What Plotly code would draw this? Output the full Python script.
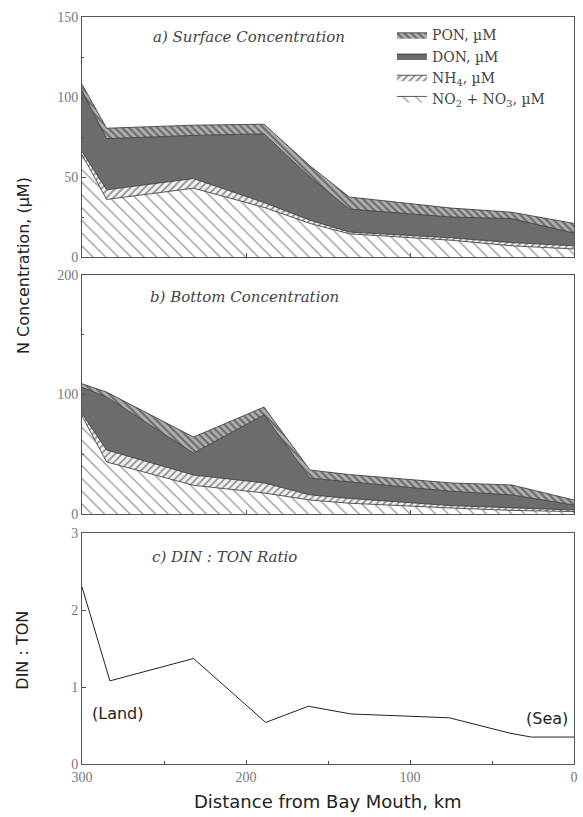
import plotly.graph_objects as go

# ---------------- data ----------------
stations_km = [300, 285, 232, 189, 161, 137, 75, 38, 0]

# a) Surface concentration components (µM)
surf_no2no3 = [64, 36, 43, 31, 21, 14.5, 10.5, 7, 5]
surf_nh4 = [2, 6, 6, 3, 2, 1.1, 1.5, 2, 2]
surf_don = [38, 32, 27, 43, 27, 14.4, 13, 15, 8]
surf_pon = [4, 6.5, 6.4, 6, 7, 7.5, 5.6, 4, 6]

# b) Bottom concentration components (µM)
bot_no2no3 = [82, 43.5, 24, 17.6, 11.7, 9, 5, 3, 2]
bot_nh4 = [2, 10, 8.6, 8.4, 4.3, 4, 2, 2, 1.3]
bot_don = [22, 44.5, 18.4, 57, 14, 14, 12, 11, 4.2]
bot_pon = [3, 4, 13.4, 6.5, 6.8, 6, 7, 8.3, 4.2]

# c) DIN : TON ratio
ratio_km = [300, 283, 232, 188, 162, 136, 76, 39, 26, 0]
din_ton = [2.3, 1.08, 1.37, 0.54, 0.75, 0.65, 0.60, 0.40, 0.35, 0.35]

names = ["NO<sub>2</sub> + NO<sub>3</sub>, µM", "NH<sub>4</sub>, µM", "DON, µM", "PON, µM"]

# ---------------- styles ----------------
SERIF = "Liberation Serif"
WSERIF = "DejaVu Serif"
SANS = "DejaVu Sans"
styles = [
    dict(fillpattern=dict(shape="\\", size=9, solidity=0.15, fgcolor="#333", bgcolor="white")),
    dict(fillpattern=dict(shape="/", size=5, solidity=0.35, fgcolor="#333", bgcolor="#f2f2f2")),
    dict(fillcolor="#6c6c6c"),
    dict(fillpattern=dict(shape="\\", size=5, solidity=0.45, fgcolor="#2a2a2a", bgcolor="#b0b0b0")),
]

fig = go.Figure()

def add_panel(series, xa, ya, group, showlegend):
    for vals, nm, st in zip(series, names, styles):
        fig.add_trace(go.Scatter(
            x=stations_km, y=vals, name=nm, stackgroup=group,
            mode="lines", line=dict(color="#333", width=0.8),
            xaxis=xa, yaxis=ya, showlegend=showlegend, legendgroup=nm,
            **st))

add_panel([surf_no2no3, surf_nh4, surf_don, surf_pon], "x", "y", "a", True)
add_panel([bot_no2no3, bot_nh4, bot_don, bot_pon], "x2", "y2", "b", False)

fig.add_trace(go.Scatter(x=ratio_km, y=din_ton, mode="lines",
                         line=dict(color="#222", width=1), xaxis="x3", yaxis="y3",
                         showlegend=False))

tickfont = dict(family=SERIF, size=14, color="#777")
axcommon = dict(showline=True, linecolor="#555", linewidth=1, mirror=True,
                showgrid=False, zeroline=False, ticks="inside", ticklen=4,
                tickcolor="#555", tickfont=tickfont)

fig.update_layout(
    width=583, height=817,
    margin=dict(l=82, r=5, t=17, b=53),
    paper_bgcolor="white", plot_bgcolor="white",
    xaxis=dict(domain=[0, 1], anchor="y", range=[300, 0], showticklabels=False,
               tickvals=[300, 200, 100, 0], **axcommon),
    yaxis=dict(domain=[0.6787, 1], anchor="x", range=[0, 150],
               tickvals=[0, 50, 100, 150],
               minor=dict(dtick=25, ticks="inside", ticklen=2, tickcolor="#555"),
               **axcommon),
    xaxis2=dict(domain=[0, 1], anchor="y2", range=[300, 0], showticklabels=False,
                tickvals=[300, 200, 100, 0], **axcommon),
    yaxis2=dict(domain=[0.3347, 0.6546], anchor="x2", range=[0, 200],
                tickvals=[0, 100, 200],
                minor=dict(dtick=50, ticks="inside", ticklen=2, tickcolor="#555"),
                **axcommon),
    xaxis3=dict(domain=[0, 1], anchor="y3", range=[300, 0],
                tickvals=[300, 200, 100, 0],
                minor=dict(tickvals=[250, 150, 50], ticks="inside", ticklen=3, tickcolor="#555"),
                **axcommon),
    yaxis3=dict(domain=[0, 0.3092], anchor="x3", range=[0, 3],
                tickvals=[0, 1, 2, 3], **axcommon),
    legend=dict(x=0.63, y=0.997, xanchor="left", yanchor="top",
                traceorder="reversed", bgcolor="rgba(0,0,0,0)",
                font=dict(family=WSERIF, size=14, color="#444"),
                itemwidth=30, tracegroupgap=0),
)

title_font = dict(family=WSERIF, size=15, color="#444", style="italic")
ann = [
    dict(text="a) Surface Concentration", xref="x domain", yref="y domain",
         x=0.339, y=0.917, xanchor="center", yanchor="middle",
         showarrow=False, font=title_font),
    dict(text="b) Bottom Concentration", xref="x2 domain", yref="y2 domain",
         x=0.33, y=0.908, xanchor="center", yanchor="middle",
         showarrow=False, font=title_font),
    dict(text="c) DIN : TON Ratio", xref="x3 domain", yref="y3 domain",
         x=0.29, y=0.896, xanchor="center", yanchor="middle",
         showarrow=False, font=title_font),
    dict(text="N Concentration, (µM)", xref="paper", yref="paper",
         x=-0.12, y=0.668, xanchor="center", yanchor="middle",
         textangle=-90, showarrow=False,
         font=dict(family=SANS, size=16, color="#222")),
    dict(text="DIN : TON", xref="paper", yref="paper",
         x=-0.12, y=0.153, xanchor="center", yanchor="middle",
         textangle=-90, showarrow=False,
         font=dict(family=SANS, size=16, color="#222")),
    dict(text="Distance from Bay Mouth, km", xref="paper", yref="paper",
         x=0.5, y=-0.05, xanchor="center", yanchor="middle", showarrow=False,
         font=dict(family=SANS, size=18, color="#222")),
    dict(text="(Land)", xref="x3", yref="y3", x=278, y=0.65,
         xanchor="center", yanchor="middle", showarrow=False,
         font=dict(family=SANS, size=16, color="#222")),
    dict(text="(Sea)", xref="x3", yref="y3", x=16.7, y=0.59,
         xanchor="center", yanchor="middle", showarrow=False,
         font=dict(family=SANS, size=16, color="#222")),
]
fig.update_layout(annotations=ann)

fig.write_html("out.html")
